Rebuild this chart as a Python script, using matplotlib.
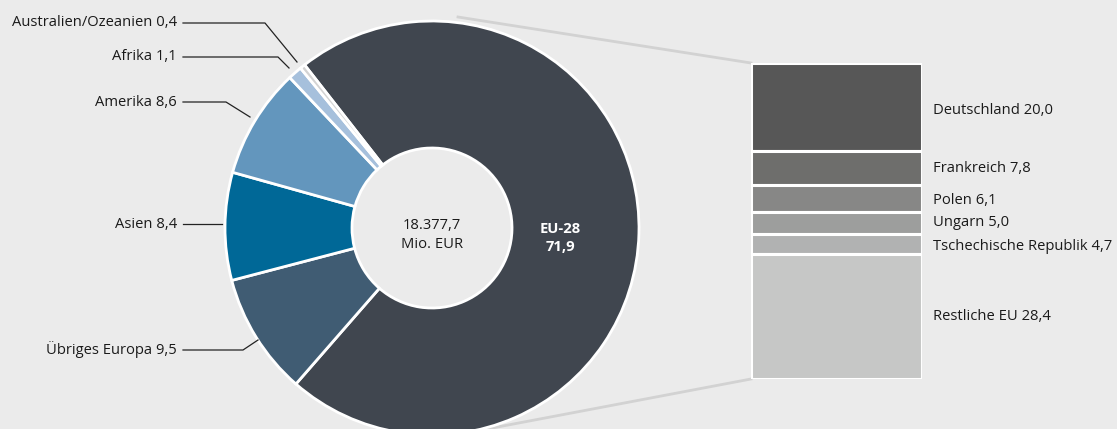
import matplotlib
matplotlib.use("Agg")
import matplotlib.pyplot as plt
from matplotlib.lines import Line2D

# ---------------- data ----------------
regions = ["EU-28", "Übriges Europa", "Asien", "Amerika", "Afrika", "Australien/Ozeanien"]
region_values = [71.9, 9.5, 8.4, 8.6, 1.1, 0.4]
region_colors = ["#40464f", "#405c73", "#006897", "#6396bd", "#a6c0dc", "#d3d3d3"]
total_label = "18.377,7\nMio. EUR"

eu_countries = ["Deutschland", "Frankreich", "Polen", "Ungarn", "Tschechische Republik", "Restliche EU"]
eu_values = [20.0, 7.8, 6.1, 5.0, 4.7, 28.4]
eu_colors = ["#575757", "#6e6e6c", "#878786", "#9d9e9d", "#b1b2b2", "#c6c7c6"]

def fmt(v):
    return f"{v:.1f}".replace(".", ",")

W, H = 1117, 429
BG = "#ebebeb"
FS = 10.6
plt.rcParams['font.family'] = ['Open Sans', 'DejaVu Sans']

fig = plt.figure(figsize=(W / 100, H / 100), dpi=100, facecolor=BG)
ax = fig.add_axes([0, 0, 1, 1])
ax.set_facecolor(BG)

# pixel helper (y from top)
def py(y):
    return H - y

cx, cy, R, r = 432, py(228), 207, 80
ax.pie(region_values, colors=region_colors, startangle=128, counterclock=False,
       center=(cx, cy), radius=R, frame=True,
       wedgeprops=dict(width=R - r, edgecolor="white", linewidth=2))
ax.set_xlim(0, W)
ax.set_ylim(0, H)
ax.set_aspect("auto")
ax.axis("off")

# centre text
ax.text(cx, py(235), total_label, ha="center", va="center", fontsize=FS, color="#1a1a1a",
        linespacing=1.3)
ax.text(560, py(238), f"{regions[0]}\n{fmt(region_values[0])}", ha="center", va="center",
        fontsize=FS, color="white", fontweight="bold", linespacing=1.3)

# leader lines and labels for small regions
leaders = {
    "Australien/Ozeanien": [(183, 23), (265, 23), (297, 62)],
    "Afrika": [(183, 57), (278, 57), (289, 68)],
    "Amerika": [(183, 102), (226, 102), (250, 117)],
    "Asien": [(183, 224), (222, 224)],
    "Übriges Europa": [(183, 350), (243, 350), (258, 340)],
}
for name, val in zip(regions[1:], region_values[1:]):
    pts = leaders[name]
    ax.add_line(Line2D([p[0] for p in pts], [py(p[1]) for p in pts], color="#222222", lw=0.9))
    ax.text(177, py(pts[0][1]), f"{name} {fmt(val)}", ha="right", va="center",
            fontsize=FS, color="#1a1a1a")

# connector lines to bar
ax.add_line(Line2D([458, 751], [py(17), py(63)], color="#d2d2d2", lw=2, zorder=0))
ax.add_line(Line2D([487, 751], [py(429), py(379)], color="#d2d2d2", lw=2, zorder=0))

# stacked bar in its own axes
bx0, bx1, by0, by1 = 751, 922, 63, 379
bax = fig.add_axes([bx0 / W, 1 - by1 / H, (bx1 - bx0) / W, (by1 - by0) / H])
bax.set_facecolor("white")
bottom = 0
for name, val, col in zip(eu_countries, eu_values, eu_colors):
    bax.bar(0, val, bottom=bottom, width=1, color=col, edgecolor="white", linewidth=2.2)
    bottom += val
bax.set_xlim(-0.5, 0.5)
bax.set_ylim(bottom, 0)
bax.axis("off")

# labels for bar
label_y = [111, 168, 200, 223, 246, 316]
for name, val, ly in zip(eu_countries, eu_values, label_y):
    ax.text(933, py(ly), f"{name} {fmt(val)}", ha="left", va="center", fontsize=FS,
            color="#1a1a1a")

fig.savefig("out.png", dpi=100, facecolor=BG)
